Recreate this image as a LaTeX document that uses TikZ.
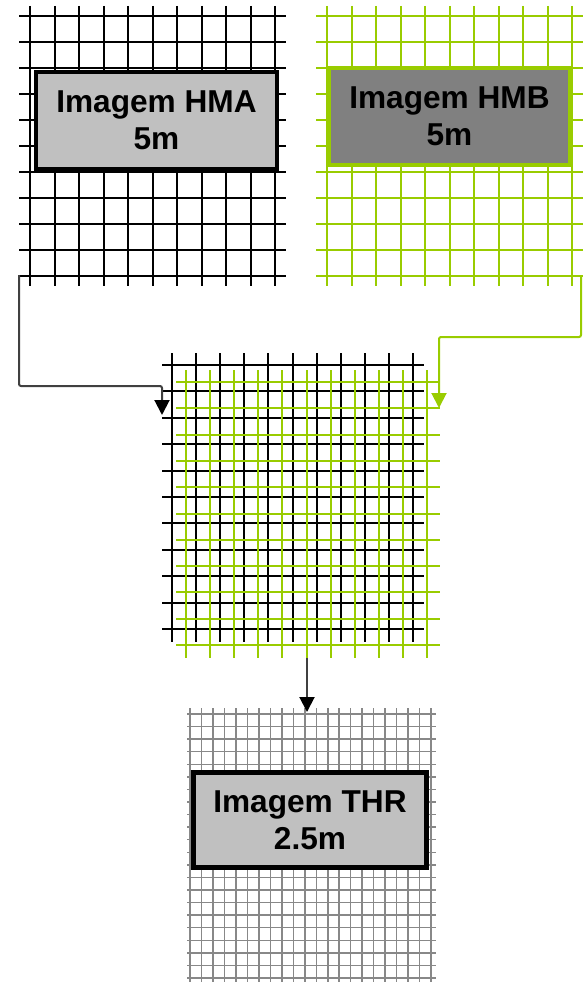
\documentclass[tikz,border=0pt]{standalone}
\usepackage{fontspec}
\setmainfont{Liberation Sans}
\usepackage{tikz}
\usetikzlibrary{arrows.meta}
\definecolor{hmgreen}{RGB}{153,204,0}
\definecolor{hmlight}{RGB}{192,192,192}
\definecolor{hmdark}{RGB}{128,128,128}
\definecolor{hmline}{RGB}{64,64,64}
\definecolor{hmfine}{RGB}{136,136,136}

\begin{document}
\begin{tikzpicture}[x=0.3mm, y=-0.3mm,
  gridline/.style={line width=0.6mm},
  fineline/.style={line width=0.45mm, hmfine},
  imgbox/.style={draw, line width=1.2mm, minimum width=72.3mm, minimum height=29.1mm,
    align=center, font=\fontsize{27}{31.5}\selectfont\bfseries},
  link/.style={line width=0.6mm, rounded corners=0.6mm, -{Triangle[length=4.5mm,width=4.5mm]}}]
\useasboundingbox (0,0) rectangle (582,982);
% Image HMA grid (5m)
\foreach \i in {0,...,10} {
  \draw[gridline] (30+24.5*\i,6) -- (30+24.5*\i,286);
  \draw[gridline] (19,16+26*\i) -- (286,16+26*\i);
}
% Image HMB grid (5m)
\foreach \i in {0,...,10} {
  \draw[gridline, hmgreen] (327+24.5*\i,6) -- (327+24.5*\i,286);
  \draw[gridline, hmgreen] (316,16+26*\i) -- (583,16+26*\i);
}
% Overlapping grids
\foreach \i in {0,...,10} {
  \draw[gridline] (172+24.1*\i,353) -- (172+24.1*\i,642);
  \draw[gridline] (162,365+26.4*\i) -- (424,365+26.4*\i);
}
\foreach \i in {0,...,10} {
  \draw[gridline, hmgreen] (186+24.1*\i,370) -- (186+24.1*\i,658);
  \draw[gridline, hmgreen] (176,382+26.3*\i) -- (440,382+26.3*\i);
}
% Image THR grid (2.5m)
\foreach \i in {0,...,21} {
  \draw[fineline] (190+11.48*\i,708) -- (190+11.48*\i,984);
  \draw[fineline] (187,714+12.57*\i) -- (436,714+12.57*\i);
}
% Labels
\node[imgbox, fill=hmlight] (hma) at (156.5,120.5) {Imagem HMA\\5m};
\node[imgbox, fill=hmdark, draw=hmgreen] (hmb) at (449.5,116.5) {Imagem HMB\\5m};
\node[imgbox, fill=hmlight, line width=1.5mm, minimum width=70mm, minimum height=28.5mm] (thr) at (310,820) {Imagem THR\\2.5m};
% Corners used by the arrows
\coordinate (hma-corner) at (19,275);
\coordinate (hmb-corner) at (581,275);
\coordinate (mix-a) at (162,415);
\coordinate (mix-b) at (439,408);
\coordinate (mix-out) at (307,658);
\coordinate (thr-in) at (307,712);
% Arrows
\draw[link, hmline, -{Triangle[length=4.5mm,width=4.5mm,black]}] (hma-corner) -- ++(0,111) -| (mix-a);
\draw[link, hmgreen] (hmb-corner) -- ++(0,62) -| (mix-b);
\draw[link, hmline, rounded corners=0, -{Triangle[length=4.5mm,width=4.5mm,black]}] (mix-out) -- (thr-in);
\end{tikzpicture}
\end{document}
